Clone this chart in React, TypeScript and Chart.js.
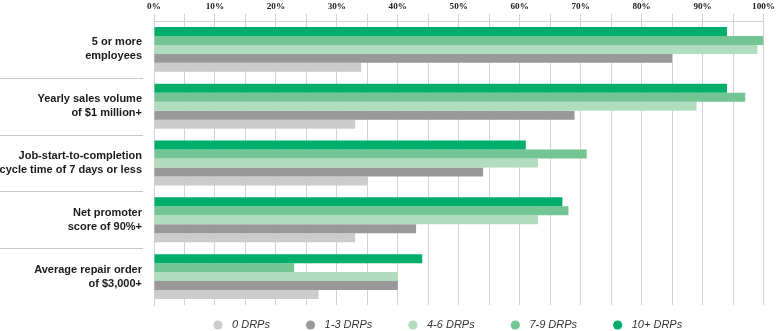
import React, { useEffect, useRef } from 'react';
import { Chart, registerables } from 'chart.js';

Chart.register(...registerables);

// ---- data ----
const categories: string[][] = [
  ['5 or more', 'employees'],
  ['Yearly sales volume', 'of $1 million+'],
  ['Job-start-to-completion', 'cycle time of 7 days or less'],
  ['Net promoter', 'score of 90%+'],
  ['Average repair order', 'of $3,000+'],
];
const seriesNames = ['10+ DRPs', '7-9 DRPs', '4-6 DRPs', '1-3 DRPs', '0 DRPs'];
const drp10plus = [94, 94, 61, 67, 44];
const drp7to9 = [100, 97, 71, 68, 23];
const drp4to6 = [99, 89, 63, 63, 40];
const drp1to3 = [85, 69, 54, 43, 40];
const drp0 = [34, 33, 35, 33, 27];
const seriesValues = [drp10plus, drp7to9, drp4to6, drp1to3, drp0];
const seriesColors = ['#00ae6b', '#74c594', '#b1dcbd', '#999999', '#cccccc'];
const xMin = 0;
const xMax = 100;
const xGridStep = 5;
const xLabelStep = 10;

const GRID = '#d2d2d2';

const separatorPlugin = {
  id: 'groupSeparators',
  afterDraw(chart: any) {
    const y = chart.scales.y;
    const ctx = chart.ctx;
    const area = chart.chartArea;
    ctx.save();
    ctx.strokeStyle = '#c8c8c8';
    ctx.lineWidth = 1;
    for (let i = 1; i < categories.length; i++) {
      const py = Math.round((y.getPixelForValue(i - 1) + y.getPixelForValue(i)) / 2) + 0.5;
      ctx.beginPath();
      ctx.moveTo(0, py);
      ctx.lineTo(area.left - 11, py);
      ctx.stroke();
    }
    ctx.restore();
  },
};

const legendPlugin = {
  id: 'dotLegend',
  afterDraw(chart: any) {
    const ctx = chart.ctx;
    const area = chart.chartArea;
    const items = chart.data.datasets
      .map((d: any) => ({ label: d.label, color: d.backgroundColor }))
      .reverse();
    ctx.save();
    ctx.font = 'italic 11px "Liberation Sans", Arial, sans-serif';
    const r = 4.6;
    const gapText = 9.5;
    const gapItem = 36;
    const widths = items.map((it: any) => ctx.measureText(it.label).width);
    const total =
      widths.reduce((a: number, w: number) => a + 2 * r + gapText + w, 0) + gapItem * (items.length - 1);
    let x = (area.left + area.right) / 2 - 11 - total / 2;
    const cy = area.bottom + 20;
    items.forEach((it: any, i: number) => {
      ctx.fillStyle = it.color;
      ctx.beginPath();
      ctx.arc(x + r, cy, r, 0, Math.PI * 2);
      ctx.fill();
      ctx.fillStyle = '#333333';
      ctx.textBaseline = 'middle';
      ctx.textAlign = 'left';
      ctx.fillText(it.label, x + 2 * r + gapText, cy);
      x += 2 * r + gapText + widths[i] + gapItem;
    });
    ctx.restore();
  },
};

export default function App() {
  const ref = useRef<HTMLCanvasElement | null>(null);

  useEffect(() => {
    if (!ref.current) return;
    const chart = new Chart(ref.current, {
      type: 'bar',
      data: {
        labels: categories,
        datasets: seriesNames.map((name, i) => ({
          label: name,
          data: seriesValues[i],
          backgroundColor: seriesColors[i],
          borderWidth: 0,
          categoryPercentage: 0.79,
          barPercentage: 1,
        })),
      },
      options: {
        indexAxis: 'y',
        animation: false,
        responsive: false,
        devicePixelRatio: 1,
        layout: { padding: { top: 0, right: 11, bottom: 26, left: 0 } },
        plugins: {
          legend: { display: false },
          tooltip: { enabled: false },
        },
        scales: {
          x: {
            position: 'top',
            min: xMin,
            max: xMax,
            grid: {
              color: GRID,
              lineWidth: 1,
              tickLength: 7,
              drawTicks: true,
            },
            border: { display: true, color: GRID, width: 1 },
            afterFit: (scale: any) => {
              scale.height = 21;
            },
            ticks: {
              stepSize: xGridStep,
              autoSkip: false,
              maxRotation: 0,
              padding: 2,
              color: '#222222',
              font: { family: '"Liberation Serif", "DejaVu Serif", serif', size: 9.2, weight: 'bold' },
              callback: (v: any) => (Number(v) % xLabelStep === 0 ? `${v}%` : ''),
            },
          },
          y: {
            grid: { display: false, drawTicks: false },
            border: { display: true, color: GRID, width: 1 },
            afterFit: (scale: any) => {
              scale.width = 154;
              scale.paddingTop = 0;
              scale.paddingBottom = 0;
            },
            ticks: {
              padding: 12,
              color: '#1a1a1a',
              font: { family: '"Liberation Sans", Arial, sans-serif', size: 11, weight: 'bold', lineHeight: 1.27 },
            },
          },
        },
      },
      plugins: [separatorPlugin, legendPlugin],
    } as any);
    return () => chart.destroy();
  }, []);

  return (
    <div style={{ position: 'fixed', left: 0, top: 0, width: 777, height: 331, background: '#fff' }}>
      <canvas ref={ref} width={777} height={331} style={{ display: 'block' }} />
    </div>
  );
}
